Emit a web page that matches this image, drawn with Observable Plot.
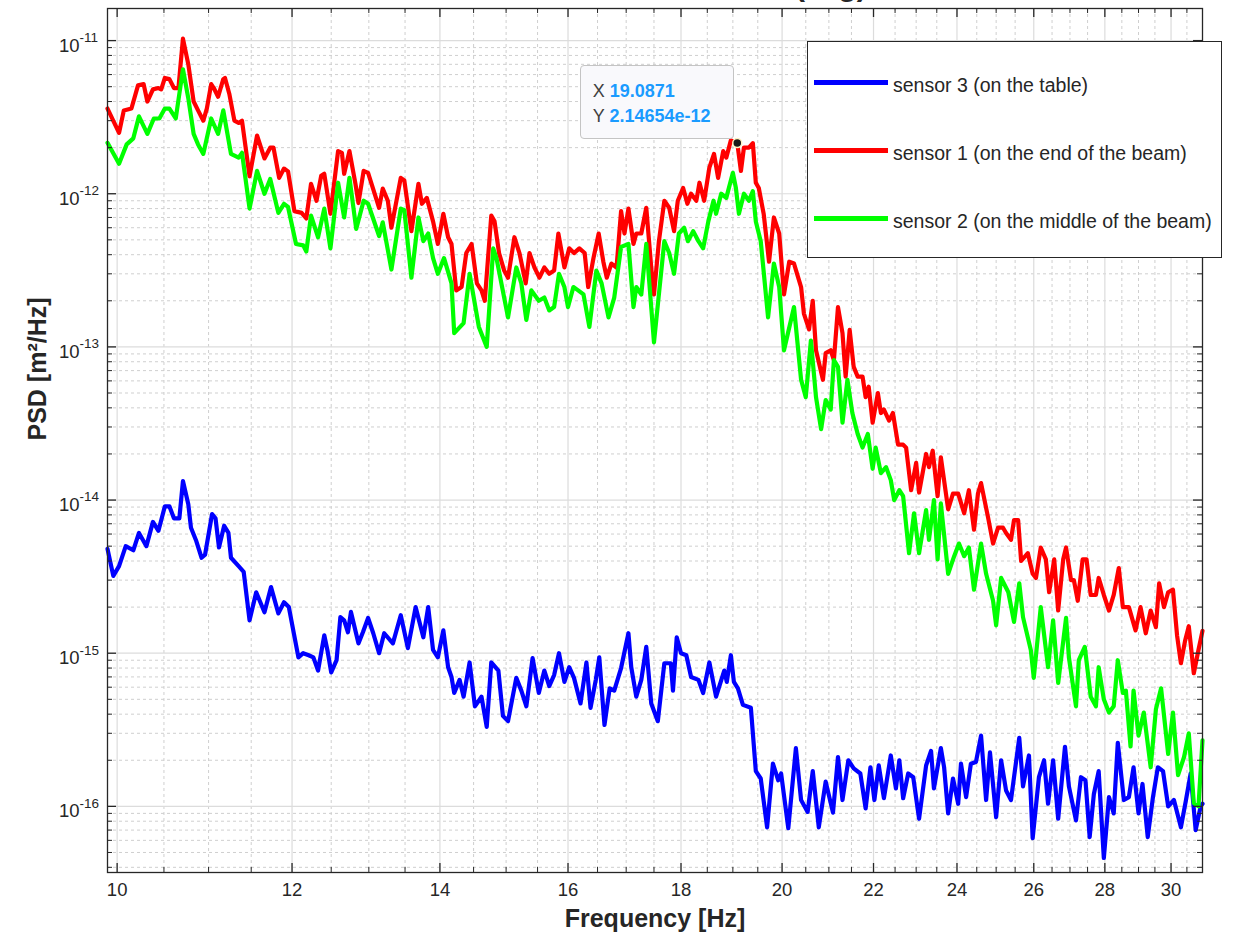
<!DOCTYPE html>
<html>
<head>
<meta charset="utf-8">
<script src="https://cdn.jsdelivr.net/npm/d3@7"></script>
<script src="https://cdn.jsdelivr.net/npm/@observablehq/plot@0.6"></script>
<style>
  body { margin: 0; background: #ffffff; font-family: "Liberation Sans", Arial, sans-serif; }
  #wrap { position: relative; width: 1233px; height: 940px; overflow: hidden; background: #fff; }
  #wrap svg { position: absolute; left: 0; top: 0; }
  .title { position: absolute; left: 795px; top: -29px; font: bold 30px "Liberation Sans", Arial, sans-serif; line-height: 30px; color: #262626; white-space: nowrap; }
  .legend { position: absolute; background: #fff; border: 1.5px solid #262626; box-sizing: border-box; }
  .legend .sw { position: absolute; height: 4.5px; }
  .legend .lab { position: absolute; font-size: 19.5px; line-height: 22px; color: #262626; white-space: nowrap; }
  .tipbox { position: absolute; box-sizing: border-box; background: #f9f9fc; border: 1.5px solid #c4c4c4; border-radius: 4px; padding: 13px 0 0 12px; font-size: 18px; line-height: 25px; white-space: nowrap; }
  .tipbox .k { color: #404040; }
  .tipbox .v { color: #1a9bff; font-weight: bold; }
</style>
</head>
<body>
<div id="wrap"></div>
<script>
// ---- Series metadata ----
const seriesNames = ["sensor 3 (on the table)", "sensor 1 (on the end of the beam)", "sensor 2 (on the middle of the beam)"];
const seriesColors = ["#0000ff", "#ff0000", "#00ff00"];

// ---- Data: [frequency Hz, PSD m^2/Hz] ----
const sensor3 = [
  [9.9,4.8e-15],[9.96,3.2e-15],[10.02,3.7e-15],[10.09,5.0e-15],[10.17,4.7e-15],[10.23,6.1e-15],[10.31,5.0e-15],[10.38,7.2e-15],
  [10.44,6.3e-15],[10.51,9.1e-15],[10.56,9.1e-15],[10.61,7.6e-15],[10.67,7.6e-15],[10.71,1.33e-14],[10.77,9.4e-15],[10.8,6.6e-15],
  [10.86,5.4e-15],[10.92,4.2e-15],[10.96,4.4e-15],[11.04,8.1e-15],[11.08,7.6e-15],[11.12,4.9e-15],[11.18,6.8e-15],[11.23,6.1e-15],
  [11.26,4.2e-15],[11.35,3.7e-15],[11.41,3.4e-15],[11.48,1.64e-15],[11.56,2.5e-15],[11.66,1.85e-15],[11.74,2.7e-15],[11.83,1.82e-15],
  [11.9,2.15e-15],[11.96,2.0e-15],[12.08,9.4e-16],[12.14,1.0e-15],[12.21,9.7e-16],[12.27,9.4e-16],[12.33,7.7e-16],[12.41,1.31e-15],
  [12.45,1.05e-15],[12.5,7.5e-16],[12.57,9.0e-16],[12.62,1.72e-15],[12.67,1.64e-15],[12.72,1.37e-15],[12.76,1.86e-15],[12.86,1.16e-15],
  [12.92,1.37e-15],[12.99,1.7e-15],[13.06,1.35e-15],[13.14,1.0e-15],[13.21,1.35e-15],[13.33,1.16e-15],[13.44,1.77e-15],[13.54,1.08e-15],
  [13.65,2.0e-15],[13.76,1.27e-15],[13.83,2.0e-15],[13.9,1.05e-15],[13.97,9.4e-16],[14.05,1.41e-15],[14.12,8.1e-16],[14.17,7.0e-16],
  [14.21,5.5e-16],[14.29,6.7e-16],[14.35,5.2e-16],[14.44,8.7e-16],[14.52,4.5e-16],[14.62,5.2e-16],[14.7,3.3e-16],[14.77,8.7e-16],
  [14.88,7.7e-16],[14.95,3.9e-16],[15.03,3.6e-16],[15.16,6.9e-16],[15.24,5.7e-16],[15.32,4.5e-16],[15.42,9.3e-16],[15.52,5.5e-16],
  [15.61,7.7e-16],[15.69,6.1e-16],[15.77,7.2e-16],[15.85,1.0e-15],[15.94,6.5e-16],[16.02,8.1e-16],[16.1,6.9e-16],[16.21,4.7e-16],
  [16.31,8.7e-16],[16.38,4.4e-16],[16.47,6.7e-16],[16.53,9.4e-16],[16.62,3.4e-16],[16.71,5.9e-16],[16.79,5.7e-16],[16.91,8.0e-16],
  [17.04,1.35e-15],[17.09,8.1e-16],[17.18,5.2e-16],[17.27,6.7e-16],[17.36,1.1e-15],[17.45,4.7e-16],[17.57,3.6e-16],[17.69,8.6e-16],
  [17.81,8.6e-16],[17.85,5.7e-16],[17.92,1.27e-15],[18.0,1.0e-15],[18.1,9.7e-16],[18.19,7.0e-16],[18.33,6.7e-16],[18.42,5.5e-16],
  [18.54,8.7e-16],[18.67,5.2e-16],[18.83,7.7e-16],[18.88,6.5e-16],[18.96,9.7e-16],[19.02,6.5e-16],[19.1,5.9e-16],[19.2,4.6e-16],
  [19.36,4.4e-16],[19.46,1.7e-16],[19.56,1.52e-16],[19.69,7.3e-17],[19.81,1.9e-16],[19.92,1.48e-16],[19.98,1.64e-16],[20.13,7.2e-17],
  [20.29,2.4e-16],[20.4,1.1e-16],[20.54,9.2e-17],[20.65,1.7e-16],[20.78,7.3e-17],[20.93,1.45e-16],[21.09,9.1e-17],[21.2,2.1e-16],
  [21.3,1.1e-16],[21.43,2.0e-16],[21.55,1.77e-16],[21.7,1.64e-16],[21.82,9.7e-17],[21.93,1.8e-16],[22.02,1.1e-16],[22.12,1.85e-16],
  [22.24,1.13e-16],[22.4,2.15e-16],[22.52,1.31e-16],[22.6,2.0e-16],[22.69,1.13e-16],[22.81,1.64e-16],[22.93,1.55e-16],[23.07,8.3e-17],
  [23.24,1.85e-16],[23.36,2.3e-16],[23.43,1.31e-16],[23.6,2.4e-16],[23.68,1.8e-16],[23.78,9.0e-17],[23.9,1.52e-16],[24.03,1.04e-16],
  [24.1,1.9e-16],[24.23,1.15e-16],[24.35,1.9e-16],[24.48,1.95e-16],[24.61,2.9e-16],[24.74,1.1e-16],[24.84,2.25e-16],[25.0,8.5e-17],
  [25.13,2.0e-16],[25.26,1.27e-16],[25.39,1.1e-16],[25.47,1.55e-16],[25.61,2.8e-16],[25.71,1.35e-16],[25.87,2.15e-16],[25.97,6.2e-17],
  [26.14,1.55e-16],[26.28,2.0e-16],[26.39,1.04e-16],[26.53,2.0e-16],[26.67,8.3e-17],[26.86,2.45e-16],[26.97,1.35e-16],[27.17,8.1e-17],
  [27.31,1.55e-16],[27.44,1.48e-16],[27.56,6.3e-17],[27.68,1.2e-16],[27.82,1.7e-16],[27.97,4.6e-17],[28.12,1.15e-16],[28.26,9.0e-17],
  [28.38,2.6e-16],[28.56,1.1e-16],[28.71,1.15e-16],[28.85,1.8e-16],[29.0,9.0e-17],[29.12,1.4e-16],[29.28,6.3e-17],[29.44,1.15e-16],
  [29.59,1.8e-16],[29.75,1.7e-16],[29.91,1.0e-16],[30.09,1.1e-16],[30.31,7.3e-17],[30.47,1.1e-16],[30.62,1.64e-16],[30.78,7.0e-17],
  [30.94,1.0e-16],[31.0,1.04e-16]
];
const sensor1 = [
  [9.9,3.6e-12],[10.02,2.5e-12],[10.07,3.5e-12],[10.15,3.6e-12],[10.22,5.1e-12],[10.28,5.2e-12],[10.32,4.0e-12],[10.38,4.8e-12],
  [10.44,4.9e-12],[10.47,4.8e-12],[10.51,5.7e-12],[10.56,5.6e-12],[10.61,4.9e-12],[10.66,4.9e-12],[10.71,1.03e-11],[10.77,7.0e-12],
  [10.83,4.0e-12],[10.88,3.5e-12],[10.94,3.0e-12],[10.98,3.6e-12],[11.03,5.2e-12],[11.06,4.9e-12],[11.11,4.3e-12],[11.17,5.6e-12],
  [11.19,5.7e-12],[11.24,4.5e-12],[11.3,3.0e-12],[11.35,2.9e-12],[11.39,3.0e-12],[11.48,1.3e-12],[11.57,2.4e-12],[11.66,1.7e-12],
  [11.73,2.0e-12],[11.77,2.0e-12],[11.84,1.27e-12],[11.9,1.46e-12],[11.95,1.4e-12],[12.03,7.7e-13],[12.12,7.5e-13],[12.18,6.9e-13],
  [12.24,1.16e-12],[12.31,9.0e-13],[12.37,1.31e-12],[12.41,1.35e-12],[12.49,7.4e-13],[12.59,1.9e-12],[12.64,1.85e-12],[12.67,1.35e-12],
  [12.74,1.9e-12],[12.82,1.16e-12],[12.86,8.7e-13],[12.93,1.41e-12],[12.99,1.37e-12],[13.14,8.1e-13],[13.19,1.08e-12],[13.26,9.0e-13],
  [13.31,6.0e-13],[13.44,1.27e-12],[13.49,1.22e-12],[13.59,5.7e-13],[13.69,1.16e-12],[13.74,8.6e-13],[13.81,9.4e-13],[13.9,6.6e-13],
  [13.97,4.7e-13],[14.05,7.4e-13],[14.12,5.2e-13],[14.17,4.7e-13],[14.24,2.34e-13],[14.32,2.46e-13],[14.39,4.1e-13],[14.47,4.7e-13],
  [14.55,2.6e-13],[14.62,2.34e-13],[14.67,2.0e-13],[14.77,7.2e-13],[14.82,6.6e-13],[14.89,4.1e-13],[14.97,3.15e-13],[15.03,2.83e-13],
  [15.13,5.2e-13],[15.21,4.1e-13],[15.31,2.6e-13],[15.37,4.1e-13],[15.45,3.3e-13],[15.53,2.83e-13],[15.61,3.3e-13],[15.69,3.0e-13],
  [15.77,3.15e-13],[15.84,5.5e-13],[15.94,3.3e-13],[16.02,4.4e-13],[16.1,4.1e-13],[16.19,4.4e-13],[16.28,4.1e-13],[16.34,2.46e-13],
  [16.43,3.8e-13],[16.52,5.5e-13],[16.6,3.6e-13],[16.66,2.83e-13],[16.74,3.5e-13],[16.83,3.3e-13],[16.91,7.7e-13],[16.97,5.5e-13],
  [17.04,8.0e-13],[17.13,4.7e-13],[17.18,5.5e-13],[17.27,5.5e-13],[17.36,8.1e-13],[17.45,3.3e-13],[17.5,2.2e-13],[17.59,4.9e-13],
  [17.69,9.0e-13],[17.78,8.1e-13],[17.87,5.7e-13],[17.94,9.0e-13],[18.04,1.09e-12],[18.12,8.6e-13],[18.19,1.0e-12],[18.29,9.0e-13],
  [18.35,1.18e-12],[18.44,9.0e-13],[18.54,1.48e-12],[18.63,1.82e-12],[18.71,1.27e-12],[18.81,1.9e-12],[18.87,1.72e-12],[18.96,2.23e-12],
  [19.0871,2.14654e-12],[19.16,1.41e-12],[19.22,2.0e-12],[19.32,2.0e-12],[19.4,2.14e-12],[19.46,1.18e-12],[19.52,1.09e-12],[19.62,7.4e-13],
  [19.73,3.6e-13],[19.83,7.0e-13],[19.94,5.5e-13],[20.04,2.2e-13],[20.15,3.6e-13],[20.25,3.5e-13],[20.4,2.46e-13],[20.46,1.65e-13],
  [20.57,1.3e-13],[20.65,2.0e-13],[20.72,9.5e-14],[20.87,6.1e-14],[20.93,9.1e-14],[21.04,9.5e-14],[21.11,8.2e-14],[21.2,1.82e-13],
  [21.3,1.23e-13],[21.37,6.4e-14],[21.46,1.29e-13],[21.55,7.4e-14],[21.64,6.4e-14],[21.75,6.4e-14],[21.82,4.7e-14],[21.89,5.5e-14],
  [21.98,3.2e-14],[22.1,5.0e-14],[22.17,3.7e-14],[22.24,3.9e-14],[22.36,3.3e-14],[22.45,3.7e-14],[22.57,2.3e-14],[22.69,2.3e-14],
  [22.76,2.2e-14],[22.88,1.16e-14],[23.0,1.75e-14],[23.07,1.12e-14],[23.24,2.0e-14],[23.31,1.64e-14],[23.4,2.1e-14],[23.52,1.06e-14],
  [23.6,1.9e-14],[23.78,8.7e-15],[23.9,1.1e-14],[24.03,1.1e-14],[24.18,8.2e-15],[24.3,1.16e-14],[24.43,6.4e-15],[24.53,1.1e-14],
  [24.61,1.29e-14],[24.79,7.7e-15],[24.92,5.2e-15],[25.05,6.6e-15],[25.18,6.6e-15],[25.26,6.1e-15],[25.39,5.5e-15],[25.47,7.4e-15],
  [25.58,7.4e-15],[25.66,4.0e-15],[25.84,4.5e-15],[25.97,3.3e-15],[26.06,3.1e-15],[26.19,4.9e-15],[26.33,4.1e-15],[26.42,2.5e-15],
  [26.56,4.1e-15],[26.67,1.9e-15],[26.81,4.1e-15],[26.89,4.9e-15],[27.03,3.0e-15],[27.11,3.0e-15],[27.22,2.2e-15],[27.36,4.1e-15],
  [27.47,4.1e-15],[27.59,2.4e-15],[27.74,2.4e-15],[27.82,3.1e-15],[27.97,2.4e-15],[28.12,1.9e-15],[28.26,2.4e-15],[28.41,3.6e-15],
  [28.53,2.0e-15],[28.71,2.0e-15],[28.91,1.41e-15],[29.06,2.0e-15],[29.22,1.35e-15],[29.37,1.9e-15],[29.53,1.48e-15],[29.63,2.86e-15],
  [29.78,2.0e-15],[29.91,2.5e-15],[30.06,2.6e-15],[30.19,1.3e-15],[30.31,8.6e-16],[30.44,1.2e-15],[30.56,1.5e-15],[30.72,7.4e-16],
  [30.87,1.05e-15],[31.0,1.4e-15]
];
const sensor2 = [
  [9.9,2.15e-12],[10.02,1.57e-12],[10.1,2.1e-12],[10.17,2.3e-12],[10.23,3.2e-12],[10.32,2.46e-12],[10.39,3.1e-12],[10.45,3.1e-12],
  [10.51,3.6e-12],[10.56,3.6e-12],[10.63,3.1e-12],[10.71,6.5e-12],[10.77,4.2e-12],[10.83,2.46e-12],[10.88,2.1e-12],[10.94,1.82e-12],
  [11.03,3.1e-12],[11.11,2.46e-12],[11.17,3.5e-12],[11.26,1.82e-12],[11.35,1.72e-12],[11.39,1.85e-12],[11.48,8.0e-13],[11.57,1.41e-12],
  [11.66,1.0e-12],[11.73,1.25e-12],[11.83,7.5e-13],[11.9,8.6e-13],[11.95,8.2e-13],[12.05,4.7e-13],[12.14,4.6e-13],[12.18,4.2e-13],
  [12.24,7.2e-13],[12.33,5.2e-13],[12.41,8.0e-13],[12.49,4.4e-13],[12.59,1.18e-12],[12.67,7.0e-13],[12.74,1.27e-12],[12.83,5.9e-13],
  [12.93,9.0e-13],[12.99,8.6e-13],[13.14,5.3e-13],[13.19,6.5e-13],[13.31,3.2e-13],[13.44,8.0e-13],[13.49,7.8e-13],[13.59,2.83e-13],
  [13.69,7.0e-13],[13.76,4.9e-13],[13.83,5.5e-13],[13.9,3.8e-13],[13.97,3.0e-13],[14.06,3.8e-13],[14.17,2.6e-13],[14.21,1.23e-13],
  [14.35,1.43e-13],[14.44,3.0e-13],[14.58,1.35e-13],[14.7,1.0e-13],[14.8,4.4e-13],[14.85,3.8e-13],[15.03,1.56e-13],[15.16,3.3e-13],
  [15.24,2.6e-13],[15.32,1.5e-13],[15.4,2.34e-13],[15.52,2.0e-13],[15.61,2.1e-13],[15.69,1.73e-13],[15.77,1.82e-13],[15.85,3.0e-13],
  [15.94,2.46e-13],[16.0,1.82e-13],[16.09,2.46e-13],[16.17,2.34e-13],[16.26,2.2e-13],[16.36,1.35e-13],[16.48,3.15e-13],[16.57,2.6e-13],
  [16.69,1.56e-13],[16.79,2.1e-13],[16.91,4.5e-13],[17.04,4.7e-13],[17.13,1.82e-13],[17.18,2.46e-13],[17.27,2.2e-13],[17.36,4.7e-13],
  [17.5,1.07e-13],[17.69,4.9e-13],[17.78,4.1e-13],[17.87,3.0e-13],[17.96,5.5e-13],[18.06,6.0e-13],[18.13,4.9e-13],[18.23,5.7e-13],
  [18.33,4.9e-13],[18.42,4.4e-13],[18.52,6.6e-13],[18.62,9.0e-13],[18.67,7.4e-13],[18.77,1.0e-12],[18.87,9.4e-13],[19.0,1.37e-12],
  [19.06,1.09e-12],[19.12,7.4e-13],[19.22,1.0e-12],[19.32,9.0e-13],[19.4,1.04e-12],[19.46,6.6e-13],[19.56,4.9e-13],[19.71,1.56e-13],
  [19.83,3.5e-13],[19.94,2.46e-13],[20.04,9.5e-14],[20.25,1.82e-13],[20.4,6.1e-14],[20.5,4.7e-14],[20.61,1.1e-13],[20.72,4.7e-14],
  [20.83,2.9e-14],[20.93,4.5e-14],[21.04,3.9e-14],[21.11,8.2e-14],[21.2,7.4e-14],[21.3,3.2e-14],[21.41,6.1e-14],[21.52,3.7e-14],
  [21.64,2.7e-14],[21.75,2.2e-14],[21.87,2.7e-14],[21.98,1.6e-14],[22.05,2.2e-14],[22.17,1.5e-14],[22.29,1.64e-14],[22.4,1.35e-14],
  [22.48,1.0e-14],[22.6,1.16e-14],[22.69,1.06e-14],[22.83,4.5e-15],[22.95,8.2e-15],[23.07,4.5e-15],[23.24,8.6e-15],[23.31,5.5e-15],
  [23.43,1.0e-14],[23.52,4.1e-15],[23.6,9.5e-15],[23.78,3.3e-15],[23.93,4.3e-15],[24.05,5.2e-15],[24.18,4.3e-15],[24.3,4.9e-15],
  [24.43,2.6e-15],[24.61,5.2e-15],[24.74,3.3e-15],[24.92,2.2e-15],[25.0,1.52e-15],[25.13,3.1e-15],[25.32,2.5e-15],[25.47,1.6e-15],
  [25.61,2.86e-15],[25.71,1.72e-15],[25.92,1.05e-15],[26.0,6.9e-16],[26.19,2.0e-15],[26.39,8.1e-16],[26.53,1.64e-15],[26.67,6.4e-16],
  [26.89,1.7e-15],[26.97,9.4e-16],[27.17,4.5e-16],[27.25,9.0e-16],[27.42,1.1e-15],[27.59,5.2e-16],[27.74,4.5e-16],[27.82,8.1e-16],
  [27.97,5.0e-16],[28.12,4.1e-16],[28.26,4.5e-16],[28.38,9.0e-16],[28.53,5.5e-16],[28.62,5.7e-16],[28.76,2.46e-16],[28.85,5.7e-16],
  [29.0,2.9e-16],[29.16,4.1e-16],[29.37,1.8e-16],[29.53,4.3e-16],[29.69,5.9e-16],[29.91,2.2e-16],[30.06,4.1e-16],[30.22,1.6e-16],
  [30.41,2.1e-16],[30.56,3.0e-16],[30.72,1.05e-16],[30.87,1.0e-16],[31.0,2.7e-16]
];
const seriesData = [sensor3, sensor1, sensor2];

// ---- Axes ----
const xDomain = [9.9, 31];
const yDomain = [3.7e-17, 1.62e-11];
const xTicks = [10, 12, 14, 16, 18, 20, 22, 24, 26, 28, 30];
const xMinor = [10.5, 11, 11.5, 12.5, 13, 13.5, 14.5, 15, 15.5, 16.5, 17, 17.5, 18.5, 19, 19.5, 20.5, 21, 21.5,
                22.5, 23, 23.5, 24.5, 25, 25.5, 26.5, 27, 27.5, 28.5, 29, 29.5, 30.5];
const yTicks = [1e-16, 1e-15, 1e-14, 1e-13, 1e-12, 1e-11];
const yTickExp = ["-16", "-15", "-14", "-13", "-12", "-11"];
const yMinor = [];
for (let k = -17; k <= -11; k++) for (let m = 2; m <= 9; m++) {
  const v = m * Math.pow(10, k);
  if (v >= yDomain[0] && v <= yDomain[1]) yMinor.push(v);
}
const xLabel = "Frequency [Hz]";
const yLabel = "PSD [m²/Hz]";
const titleText = "(avg)";
const tipX = 19.0871, tipY = 2.14654e-12;

// ---- Layout ----
const W = 1233, H = 940, mL = 107, mR = 31, mT = 8, mB = 68;
const innerW = W - mL - mR, innerH = H - mT - mB;
const ink = "#262626";

const lineMarks = seriesData.map((d, i) =>
  Plot.line(d, {x: p => p[0], y: p => p[1], stroke: seriesColors[i], strokeWidth: 4.2, strokeLinejoin: "round", strokeLinecap: "round"})
);

const plot = Plot.plot({
  width: W, height: H,
  marginLeft: mL, marginRight: mR, marginTop: mT, marginBottom: mB,
  x: {type: "log", domain: xDomain, axis: null},
  y: {type: "log", domain: yDomain, axis: null},
  style: {fontFamily: "'Liberation Sans', Arial, sans-serif", background: "#ffffff", overflow: "visible"},
  marks: [
    // grid
    Plot.ruleX(xMinor, {x: d => d, stroke: "#cfcfcf", strokeDasharray: "3,3"}),
    Plot.ruleY(yMinor, {y: d => d, stroke: "#cfcfcf", strokeDasharray: "3,3"}),
    Plot.ruleX(xTicks, {x: d => d, stroke: "#dcdcdc", strokeWidth: 1.2}),
    Plot.ruleY(yTicks, {y: d => d, stroke: "#dcdcdc", strokeWidth: 1.2}),
    // data
    ...lineMarks,
    Plot.dot([[tipX, tipY]], {x: p => p[0], y: p => p[1], r: 4.5, fill: "#1a1a1a", stroke: "#fff3c4", strokeWidth: 1.5}),
    // box
    Plot.frame({stroke: ink, strokeWidth: 1.3}),
    // ticks (inward), bottom/top/left/right
    Plot.ruleX(xTicks, {x: d => d, insetTop: innerH - 9, stroke: ink, strokeWidth: 1.3}),
    Plot.ruleX(xMinor, {x: d => d, insetTop: innerH - 5, stroke: ink}),
    Plot.ruleX(xTicks, {x: d => d, insetBottom: innerH - 9, stroke: ink, strokeWidth: 1.3}),
    Plot.ruleX(xMinor, {x: d => d, insetBottom: innerH - 5, stroke: ink}),
    Plot.ruleY(yTicks, {y: d => d, insetRight: innerW - 9, stroke: ink, strokeWidth: 1.3}),
    Plot.ruleY(yMinor, {y: d => d, insetRight: innerW - 5, stroke: ink}),
    Plot.ruleY(yTicks, {y: d => d, insetLeft: innerW - 9, stroke: ink, strokeWidth: 1.3}),
    Plot.ruleY(yMinor, {y: d => d, insetLeft: innerW - 5, stroke: ink}),
    // tick labels
    Plot.text(xTicks, {x: d => d, text: d => String(d), frameAnchor: "bottom", dy: 23, fontSize: 18.5, fill: ink}),
    Plot.text(yTicks, {y: d => d, text: () => "10", frameAnchor: "left", textAnchor: "end", dx: -28, dy: 5, fontSize: 18.5, fill: ink}),
    Plot.text(yTicks, {y: d => d, text: (d, i) => yTickExp[i], frameAnchor: "left", textAnchor: "start", dx: -28, dy: -3, fontSize: 13.5, fill: ink}),
    // axis labels
    Plot.text([xLabel], {text: d => d, frameAnchor: "bottom", dy: 54, fontSize: 25, fontWeight: "bold", fill: ink}),
    Plot.text([yLabel], {text: d => d, frameAnchor: "left", dx: -70, rotate: -90, fontSize: 25, fontWeight: "bold", fill: ink})
  ]
});

const wrap = document.getElementById("wrap");
wrap.appendChild(plot);

// title (mostly above the visible area, as in the reference crop)
const title = document.createElement("div");
title.className = "title";
title.textContent = titleText;
wrap.appendChild(title);

// legend
const leg = document.createElement("div");
leg.className = "legend";
Object.assign(leg.style, {left: "807px", top: "41px", width: "415px", height: "217px"});
seriesNames.forEach((name, i) => {
  const cy = 40 + i * 68;
  const sw = document.createElement("div");
  sw.className = "sw";
  Object.assign(sw.style, {left: "6px", top: (cy - 2) + "px", width: "74px", background: seriesColors[i]});
  const lab = document.createElement("div");
  lab.className = "lab";
  Object.assign(lab.style, {left: "85px", top: (cy - 8) + "px"});
  lab.textContent = name;
  leg.appendChild(sw);
  leg.appendChild(lab);
});
wrap.appendChild(leg);

// data tip box anchored to the data point through the plot scales
const px = plot.scale("x").apply(tipX);
const py = plot.scale("y").apply(tipY);
const tip = document.createElement("div");
tip.className = "tipbox";
const bw = 154, bh = 74;
Object.assign(tip.style, {left: (px - 3 - bw) + "px", top: (py - 3 - bh) + "px", width: bw + "px", height: bh + "px"});
tip.innerHTML = `<div><span class="k">X</span> <span class="v">${tipX}</span></div><div><span class="k">Y</span> <span class="v">${tipY.toExponential(5)}</span></div>`;
wrap.appendChild(tip);
</script>
</body>
</html>
